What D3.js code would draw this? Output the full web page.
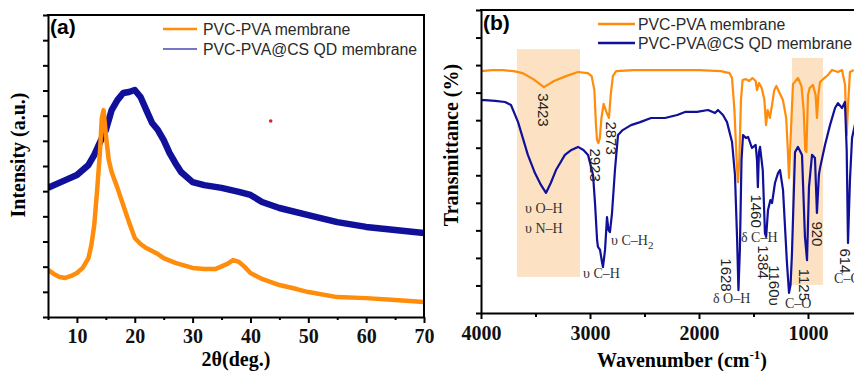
<!DOCTYPE html>
<html>
<head>
<meta charset="utf-8">
<script src="https://cdn.jsdelivr.net/npm/d3@7"></script>
<style>
  body { margin: 0; background: #fff; }
  svg { display: block; }
  .tick text { font-family: "Liberation Serif", serif; font-weight: bold; font-size: 20px; fill: #111; }
</style>
</head>
<body>
<div id="chart"></div>
<script>
// (a) XRD  -- 2theta (deg) / intensity (a.u.)
var xrdTheta1 = [5,6,7,8,9,10,11,12,12.5,13,13.5,14,14.3,14.6,15,15.5,16,17,18,19,20,21,22,24,25,27,30,32,34,36,37,38,39,40,42,45,48,50,55,60,65,70];
var xrdPva    = [1.87,1.71,1.59,1.55,1.63,1.75,1.95,2.34,2.86,3.66,5.05,6.63,7.91,8.22,7.23,6.24,5.76,5.13,4.45,3.77,3.14,2.90,2.74,2.50,2.34,2.15,1.95,1.91,1.91,2.11,2.26,2.19,1.99,1.75,1.51,1.27,1.11,0.99,0.79,0.75,0.68,0.60];
var xrdTheta2 = [5,8,10,12,13,14,15,16,17,18,19,20,21,22,23,24,25,26,27,28,30,32,35,38,40,42,45,50,55,60,65,70];
var xrdCsqd   = [5.13,5.44,5.64,6.04,6.44,6.95,7.43,8.22,8.62,8.90,8.94,9.02,8.74,8.22,7.71,7.43,7.03,6.52,6.12,5.76,5.36,5.24,5.13,4.97,4.85,4.57,4.33,4.05,3.77,3.58,3.46,3.34];
var xrdTicks = [10,20,30,40,50,60,70];

// (b) FTIR -- wavenumber (cm-1) / transmittance
var ftirWave1 = [4000,3900,3800,3700,3620,3520,3423,3330,3220,3110,3020,2985,2960,2945,2935,2923,2910,2895,2875,2850,2826,2810,2790,2760,2600,2400,2200,2000,1800,1720,1697,1675,1655,1642,1630,1615,1600,1570,1540,1510,1480,1468,1450,1425,1400,1385,1370,1350,1330,1310,1290,1265,1230,1200,1185,1174,1160,1138,1092,1060,1040,1025,1015,1000,985,954,930,918,905,890,850,817,780,725,688,660,645,630,615,580];
var ftirPva   = [8.78,8.82,8.82,8.78,8.71,8.49,8.20,8.42,8.60,8.75,8.71,8.60,8.09,6.82,6.28,6.17,6.35,7.08,7.59,7.30,7.08,7.91,8.60,8.78,8.82,8.82,8.82,8.82,8.78,8.71,8.53,7.37,5.55,4.75,5.55,7.73,8.46,8.49,8.42,8.53,8.42,8.09,8.35,8.17,7.73,6.82,7.37,7.08,7.55,8.09,8.24,8.02,7.73,7.08,5.92,4.90,6.28,8.31,8.53,8.24,7.37,5.92,5.84,7.91,8.17,8.28,7.91,7.08,7.91,8.38,8.53,8.64,8.82,8.75,8.82,8.28,6.46,7.73,8.75,8.82];
var ftirWave2 = [4000,3963,3870,3780,3725,3660,3570,3505,3450,3404,3360,3312,3230,3170,3110,3060,3018,2972,2954,2935,2927,2908,2890,2881,2862,2844,2830,2817,2798,2771,2743,2700,2624,2540,2440,2312,2200,2128,2018,1917,1853,1826,1780,1743,1697,1670,1651,1638,1625,1610,1596,1570,1550,1514,1480,1468,1460,1450,1440,1415,1395,1384,1367,1345,1330,1303,1275,1257,1229,1193,1174,1160,1147,1119,1092,1055,1028,1009,991,963,936,918,900,890,844,798,752,725,688,661,645,633,615,596,560];
var ftirCsqd  = [7.73,7.73,7.70,7.66,7.55,6.93,5.74,5.08,4.65,4.36,4.72,5.19,5.74,5.92,6.03,5.92,5.74,5.01,3.99,2.65,2.40,2.29,1.85,1.67,2.29,3.48,3.01,2.94,3.63,5.19,6.46,6.64,6.82,6.93,7.08,7.08,7.19,7.30,7.30,7.37,7.26,7.37,7.19,6.93,6.21,5.01,2.76,0.83,2.29,5.55,6.46,6.35,6.39,5.99,6.10,5.55,4.57,5.84,6.03,5.19,2.90,2.76,3.74,4.10,3.99,4.72,5.08,5.19,4.46,1.81,0.73,1.02,2.18,5.84,6.03,5.74,2.76,1.92,4.57,5.74,5.63,3.63,5.01,5.26,6.10,6.82,7.44,7.62,7.44,7.66,5.92,2.54,4.83,6.35,7.01];
var ftirTicks = [4000,3000,2000,1000];

// shaded bands [w0, w1, low, high]
var bands = [[3670,3092,1.31,9.58],[1147,862,1.02,9.26]];
// peak numbers, rotated
var peakLabels = [["3423",3431,7.37],["2923",2945,5.37],["2873",2807,6.35],["1628",1752,1.38],["1460",1468,3.70],["1384",1404,1.85],["1160υ",1303,1.00],["1125",1028,1.02],["920",917,2.87],["614",655,1.89]];
// vibration labels
var bondLabels = [["υ O–H","",3596,3.63],["υ N–H","",3596,2.90],["υ C–H","2",2807,2.47],["υ C–H","",3064,1.27],["δ C–H","",1615,2.58],["δ O–H","",1872,0.36],["C–O","",1211,0.18],["C–O","",761,1.08]];

var legendNames = ["PVC-PVA membrane","PVC-PVA@CS QD membrane"];
var orange = "#ff8c0a", navy = "#10109a";

var W = 854, H = 371;
var svg = d3.select("#chart").append("svg").attr("width", W).attr("height", H);
var defs = svg.append("defs");

// ---------- panel (a)
var xA = d3.scaleLinear().domain([5, 70]).range([48, 424]);
var yA = d3.scaleLinear().domain([0, 12]).range([317, 15]);

defs.append("clipPath").attr("id", "clipA").append("rect")
  .attr("x", 48).attr("y", 15).attr("width", 376).attr("height", 302);

var gA = svg.append("g");
var lineA = d3.line().x(function(d) { return xA(d[0]); }).y(function(d) { return yA(d[1]); });

var plotA = gA.append("g").attr("clip-path", "url(#clipA)");
plotA.append("path").datum(d3.zip(xrdTheta2, xrdCsqd))
  .attr("d", lineA).attr("fill", "none").attr("stroke", navy)
  .attr("stroke-width", 6.5).attr("stroke-linejoin", "round");
plotA.append("path").datum(d3.zip(xrdTheta1, xrdPva))
  .attr("d", lineA).attr("fill", "none").attr("stroke", orange)
  .attr("stroke-width", 4.5).attr("stroke-linejoin", "round");
plotA.append("circle").attr("cx", xA(43.5)).attr("cy", yA(7.79)).attr("r", 1.8).attr("fill", "#e02020");

gA.append("g").attr("transform", "translate(0,317)")
  .call(d3.axisBottom(xA).tickValues(xrdTicks).tickSize(6).tickSizeOuter(0).tickPadding(6))
  .call(function(g) { g.select(".domain").attr("stroke-width", 2); g.selectAll(".tick line").attr("stroke-width", 2); });
gA.append("g").attr("transform", "translate(0,317)")
  .call(d3.axisBottom(xA).tickValues(d3.range(5, 70, 10)).tickSize(3).tickSizeOuter(0).tickFormat(""))
  .call(function(g) { g.select(".domain").remove(); g.selectAll(".tick line").attr("stroke-width", 2); });
gA.append("g").attr("transform", "translate(48,0)")
  .call(d3.axisLeft(yA).ticks(12).tickSize(5).tickSizeOuter(0).tickFormat(""))
  .call(function(g) { g.select(".domain").attr("stroke-width", 2); g.selectAll(".tick line").attr("stroke-width", 2); });
gA.append("path").attr("d", "M47," + yA(12) + "H" + xA(70) + "V" + yA(0))
  .attr("fill", "none").attr("stroke", "#000").attr("stroke-width", 2);

gA.append("text").attr("x", 50).attr("y", 34).text("(a)")
  .attr("font-family", "Liberation Sans, Arial, sans-serif").attr("font-weight", "bold").attr("font-size", 21);
gA.append("text").attr("transform", "translate(25,155) rotate(-90)").attr("text-anchor", "middle")
  .attr("font-family", "Liberation Serif, serif").attr("font-weight", "bold").attr("font-size", 20)
  .text("Intensity (a.u.)");
gA.append("text").attr("x", 236).attr("y", 366).attr("text-anchor", "middle")
  .attr("font-family", "Liberation Serif, serif").attr("font-weight", "bold").attr("font-size", 20)
  .text("2θ(deg.)");

function legend(g, x0, x1, tx, y0, gap, blueWidth, blueColor) {
  var cols = [orange, blueColor];
  legendNames.forEach(function(n, i) {
    var y = y0 + i * gap;
    g.append("line").attr("x1", x0).attr("x2", x1).attr("y1", y).attr("y2", y)
      .attr("stroke", cols[i]).attr("stroke-width", i === 0 ? 2.5 : blueWidth);
    g.append("text").attr("x", tx).attr("y", y + 5.5).text(n)
      .attr("font-family", "Liberation Sans, Arial, sans-serif").attr("font-size", 15.8).attr("fill", "#2a2a2a");
  });
}
legend(gA, 163, 197, 203, 29, 20, 1.5, "#4848b0");

// ---------- panel (b)
var xB = d3.scaleLinear().domain([4000, 400]).range([481, 873.4]);
var yB = d3.scaleLinear().domain([0, 11]).range([313, 10]);

defs.append("clipPath").attr("id", "clipB").append("rect")
  .attr("x", 481).attr("y", 10).attr("width", 400).attr("height", 303);

var gB = svg.append("g");
var lineB = d3.line().x(function(d) { return xB(d[0]); }).y(function(d) { return yB(d[1]); });

gB.selectAll("rect.band").data(bands).enter().append("rect").attr("class", "band")
  .attr("x", function(d) { return xB(d[0]); })
  .attr("width", function(d) { return xB(d[1]) - xB(d[0]); })
  .attr("y", function(d) { return yB(d[3]); })
  .attr("height", function(d) { return yB(d[2]) - yB(d[3]); })
  .attr("fill", "#fce2c3");

var plotB = gB.append("g").attr("clip-path", "url(#clipB)");
plotB.append("path").datum(d3.zip(ftirWave1, ftirPva))
  .attr("d", lineB).attr("fill", "none").attr("stroke", orange)
  .attr("stroke-width", 2.2).attr("stroke-linejoin", "round");
plotB.append("path").datum(d3.zip(ftirWave2, ftirCsqd))
  .attr("d", lineB).attr("fill", "none").attr("stroke", navy)
  .attr("stroke-width", 2.2).attr("stroke-linejoin", "round");

gB.append("g").attr("transform", "translate(0,313)")
  .call(d3.axisBottom(xB).tickValues(ftirTicks).tickSize(6).tickSizeOuter(0).tickPadding(7).tickFormat(d3.format("d")))
  .call(function(g) { g.select(".domain").attr("stroke-width", 2); g.selectAll(".tick line").attr("stroke-width", 2); });
gB.append("g").attr("transform", "translate(0,313)")
  .call(d3.axisBottom(xB).tickValues([3500, 2500, 1500, 500]).tickSize(4).tickSizeOuter(0).tickFormat(""))
  .call(function(g) { g.select(".domain").remove(); g.selectAll(".tick line").attr("stroke-width", 2); });
gB.append("g").attr("transform", "translate(481,0)")
  .call(d3.axisLeft(yB).ticks(11).tickSize(5).tickSizeOuter(0).tickFormat(""))
  .call(function(g) { g.select(".domain").attr("stroke-width", 2); g.selectAll(".tick line").attr("stroke-width", 2); });
gB.append("path").attr("d", "M480," + yB(11) + "H" + xB(400))
  .attr("fill", "none").attr("stroke", "#000").attr("stroke-width", 2);

gB.append("text").attr("x", 483).attr("y", 30).text("(b)")
  .attr("font-family", "Liberation Sans, Arial, sans-serif").attr("font-weight", "bold").attr("font-size", 21);
gB.append("text").attr("transform", "translate(458,145) rotate(-90)").attr("text-anchor", "middle")
  .attr("font-family", "Liberation Serif, serif").attr("font-weight", "bold").attr("font-size", 20)
  .text("Transmittance (%)");
var xt = gB.append("text").attr("x", 682).attr("y", 367).attr("text-anchor", "middle")
  .attr("font-family", "Liberation Serif, serif").attr("font-weight", "bold").attr("font-size", 20);
xt.append("tspan").text("Wavenumber (cm");
xt.append("tspan").attr("dy", -8).attr("font-size", 13).text("-1");
xt.append("tspan").attr("dy", 8).text(")");

legend(gB, 598, 635, 638, 24, 19, 2.5, navy);

gB.selectAll("text.peak").data(peakLabels).enter().append("text").attr("class", "peak")
  .attr("transform", function(d) { return "translate(" + xB(d[1]) + "," + yB(d[2]) + ") rotate(90)"; })
  .attr("text-anchor", "middle").attr("dominant-baseline", "central")
  .attr("font-family", "Liberation Sans, Arial, sans-serif").attr("font-size", 15).attr("fill", "#222")
  .text(function(d) { return d[0]; });

var bl = gB.selectAll("text.bond").data(bondLabels).enter().append("text").attr("class", "bond")
  .attr("x", function(d) { return xB(d[2]); }).attr("y", function(d) { return yB(d[3]); })
  .attr("font-family", "Liberation Serif, serif").attr("font-size", 14).attr("fill", "#333");
bl.append("tspan").text(function(d) { return d[0]; });
bl.append("tspan").attr("dy", 4).attr("font-size", 11).text(function(d) { return d[1]; });
</script>
</body>
</html>
